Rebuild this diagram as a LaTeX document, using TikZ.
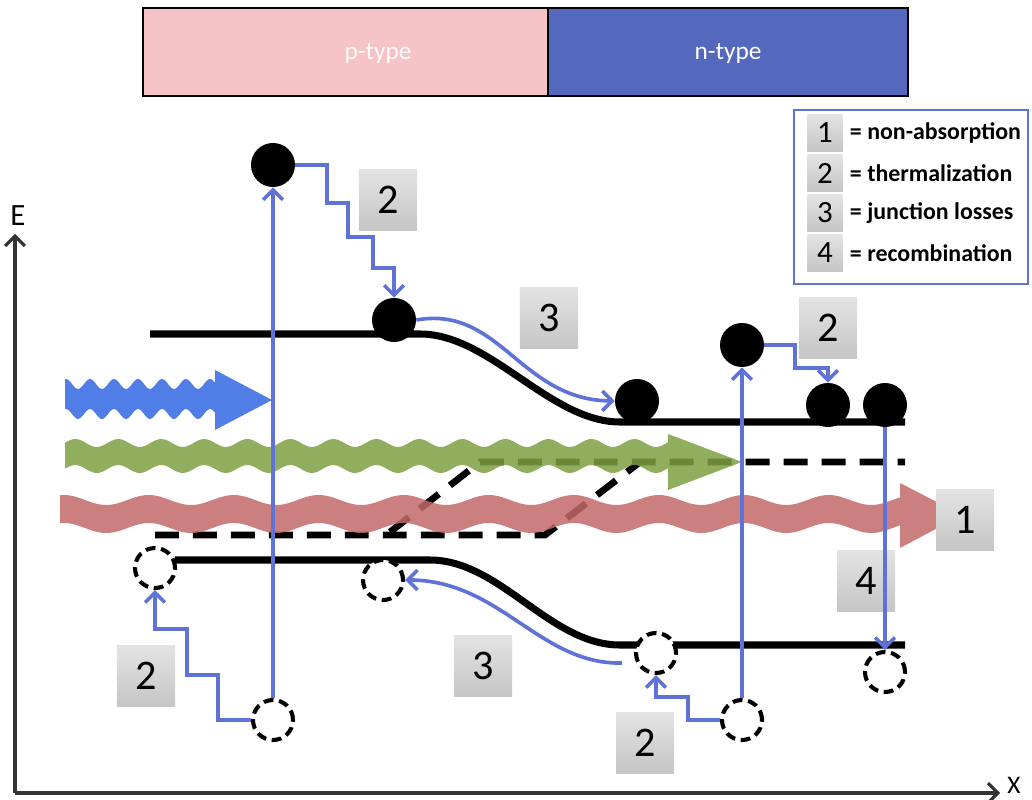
\documentclass[tikz,border=0pt]{standalone}
\usepackage{fontspec}
\setmainfont{Carlito}
\usepackage{xcolor}
\definecolor{colorPType}{RGB}{246,195,198}
\definecolor{colorNType}{RGB}{84,104,190}
\definecolor{colorTransition}{RGB}{95,115,215}
\definecolor{colorPhotonHigh}{RGB}{80,125,230}
\definecolor{colorPhotonMid}{RGB}{125,160,65}
\definecolor{colorPhotonLow}{RGB}{195,105,105}
\usepackage{tikz}
\usetikzlibrary{arrows.meta}
\tikzset{
  band/.style={line width=5pt, black},
  fermi/.style={line width=4.8pt, black, dash pattern=on 17pt off 10pt},
  electron/.style={circle, fill=black, minimum size=1.1cm, inner sep=0pt},
  hole/.style={circle, draw=black, fill=white, line width=2.9pt, dash pattern=on 7pt off 4pt, minimum size=1cm, inner sep=0pt},
  trans/.style={colorTransition, line width=2.6pt},
  numbox/.style={top color=gray!22, bottom color=gray!45, minimum width=1.45cm, minimum height=1.5cm, inner sep=0pt, font=\fontsize{30}{34}\selectfont},
  legbox/.style={numbox, minimum width=0.88cm, minimum height=0.9cm, font=\fontsize{22}{24}\selectfont},
  axis/.style={line width=2.2pt, black!80},
}

\begin{document}
\begin{tikzpicture}[x=0.025cm, y=-0.025cm, >={Straight Barb[length=7pt,width=14pt]}]
\useasboundingbox (0,0) rectangle (1032,800);
% doping regions
\draw[fill=colorPType, line width=1.2pt] (143,8) rectangle (548,96);
\draw[fill=colorNType, line width=1.2pt] (548,8) rectangle (908,96);
\node[text=white!92!colorPType, font=\fontsize{18}{20}\selectfont] (plabel) at (378,54) {p-type};
\node[text=white, font=\fontsize{18}{20}\selectfont] (nlabel) at (728,54) {n-type};
% legend
\node[draw=colorTransition, line width=1.5pt, minimum width=5.85cm, minimum height=4.33cm] (legend) at (911,197) {};
\foreach \n/\txt in {1/non-absorption, 2/thermalization, 3/junction losses, 4/recombination} {
  \node[legbox] (leg\n) at (825,{93+40*\n}) {\n};
  \node[anchor=west, font=\bfseries\fontsize{17}{19}\selectfont] (legtxt\n) at (845,{93+40*\n}) {= \txt};
}
% axes
\coordinate (origin) at (15,793);
\draw[axis, ->] (origin) -- (15,234);
\draw[axis, ->] (origin) -- (1000,793);
\node[font=\fontsize{22}{24}\selectfont] (elabel) at (18,216) {E};
\node[font=\fontsize{18}{20}\selectfont, inner sep=0pt] (xlabel) at (1014,785) {X};
% bands
\draw[band] (150,334) -- (420,334) .. controls (490,334) and (550,422) .. (620,422) -- (905,422);
\draw[band] (175,560) -- (430,560) .. controls (500,560) and (550,645) .. (620,645) -- (905,645);
\draw[fermi] (155,535) -- (545,535) -- (640,462);
\draw[fermi] (390,532) -- (480,462) -- (905,462);
% photons
\fill[colorPhotonHigh] plot[domain=65:215, samples=80] (\x,{384+5*sin(15*\x)}) -- (215,370) -- (272,400) -- (215,430) -- plot[domain=215:65, samples=80] (\x,{414+5*sin(15*\x)}) -- cycle;
\fill[colorPhotonMid, opacity=0.85] plot[domain=65:668, samples=200] (\x,{443+4*sin(8.37*\x)}) -- (668,434) -- (742,462) -- (668,490) -- plot[domain=668:65, samples=200] (\x,{469+4*sin(8.37*\x)}) -- cycle;
\fill[colorPhotonLow, opacity=0.85] plot[domain=60:900, samples=250] (\x,{500+5*sin(4.235*\x)}) -- (900,483) -- (962,515) -- (900,548) -- plot[domain=900:60, samples=250] (\x,{528+5*sin(4.235*\x)}) -- cycle;
% loss labels
\node[numbox] (therm1) at (388,200) {2};
\node[numbox] (junc1) at (549,318) {3};
\node[numbox] (therm2) at (828,328) {2};
\node[numbox] (nonabs) at (965,520) {1};
\node[numbox] (recomb) at (866,581) {4};
\node[numbox] (junc2) at (483,666) {3};
\node[numbox] (therm3) at (146,676) {2};
\node[numbox] (therm4) at (645,743) {2};
% carriers
\node[electron] (e1) at (273,165) {};
\node[electron] (e2) at (394,320) {};
\node[electron] (e3) at (637,401) {};
\node[electron] (e4) at (742,345) {};
\node[electron] (e5) at (828,405) {};
\node[electron] (e6) at (885,405) {};
\node[hole] (h1) at (155,568) {};
\node[hole] (h2) at (383,580) {};
\node[hole] (h3) at (656,653) {};
\node[hole] (h4) at (742,720) {};
\node[hole] (h5) at (885,672) {};
\node[hole] (h6) at (273,720) {};
% transitions
\draw[trans, ->] (h6) -- (e1);
\draw[trans, ->] (h4) -- (e4);
\draw[trans, ->] (e6) -- (h5.north);
\draw[trans, ->] (e1.east) -- (327,165) -- (327,203) -- (348,203) -- (348,237) -- (373,237) -- (373,268) -- (394,268) -- (e2.north);
\draw[trans, ->] (e4.east) -- (795,345) -- (795,368) -- (828,368) -- (e5.north);
\draw[trans, ->] (h6.west) -- (218,720) -- (218,675) -- (187,675) -- (187,629) -- (155,629) -- (h1.south);
\draw[trans, ->] (h4.west) -- (688,720) -- (688,697) -- (656,697) -- (h3.south);
\draw[trans, ->] (e2.east) .. controls (500,305) and (520,400) .. (e3.west);
\coordinate (j2start) at (622,663);
\draw[trans, ->] (j2start) .. controls (540,665) and (500,580) .. (h2.east);
\end{tikzpicture}
\end{document}
